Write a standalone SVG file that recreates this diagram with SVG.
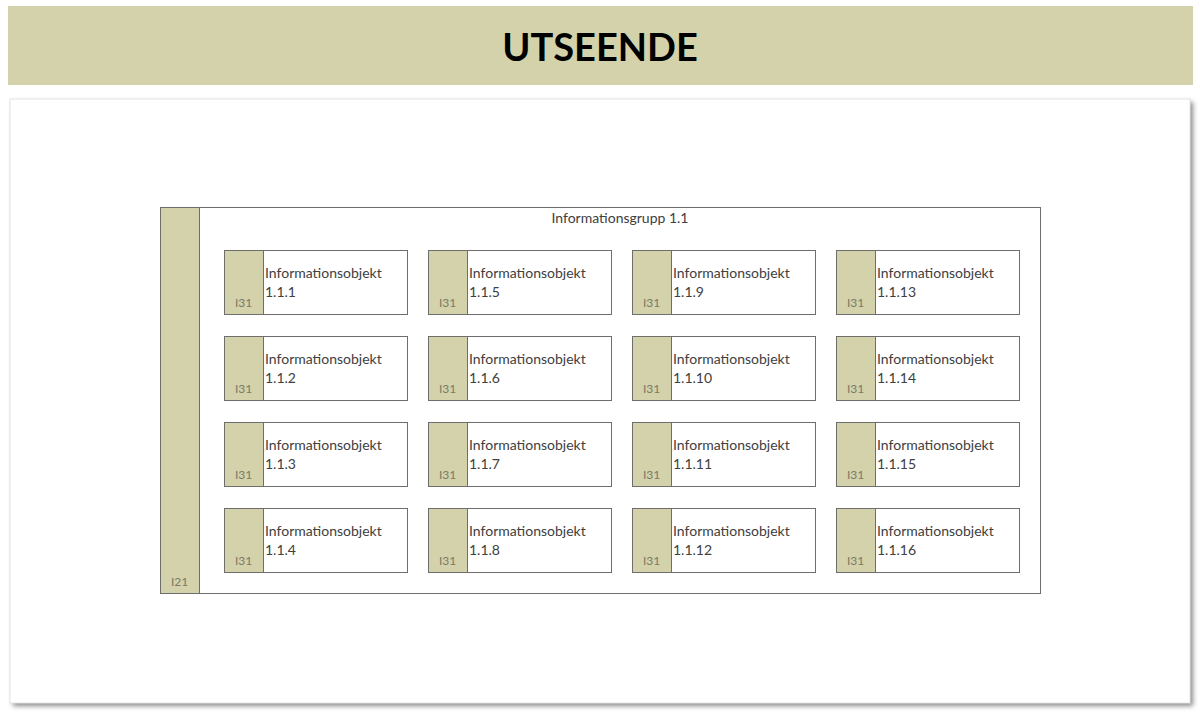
<svg xmlns="http://www.w3.org/2000/svg" width="1200" height="715" viewBox="0 0 1200 715">
<defs>
<style>
.bar{fill:#d4d2ab;}
.box{fill:#ffffff;stroke:#6e6e6e;stroke-width:1;}
.lbl{font-family:Lato,"Liberation Sans",sans-serif;font-size:14px;fill:#404040;}
.tag{font-family:Lato,"Liberation Sans",sans-serif;font-size:12px;fill:#7a7a66;}
.title{font-family:Lato,"Open Sans","Liberation Sans",sans-serif;font-size:38px;font-weight:bold;fill:#000;}
</style>
<filter id="sh" x="-5%" y="-5%" width="110%" height="110%">
<feGaussianBlur stdDeviation="2.5"/>
</filter>
<g id="obj">
<rect class="box" x="0.5" y="0.5" width="183" height="64"/>
<rect class="bar" x="1" y="1" width="38" height="63"/>
<line x1="39.5" y1="0.5" x2="39.5" y2="64.5" stroke="#6e6e6e"/>
<text class="tag" x="11" y="57">I31</text>
</g>
</defs>
<rect width="1200" height="715" fill="#ffffff"/>
<g id="title">
<rect class="bar" x="8" y="6" width="1185" height="79"/>
<text class="title" x="600" y="61" text-anchor="middle">UTSEENDE</text>
</g>
<g id="panel">
<rect x="13" y="102" width="1180" height="604" fill="#8a8a8a" filter="url(#sh)"/>
<rect x="10" y="99" width="1180" height="604" fill="#ffffff" stroke="#e4e4e4" stroke-width="1"/>
</g>
<g id="group">
<rect class="box" x="160.5" y="207.5" width="880" height="386"/>
<rect class="bar" x="161" y="208" width="38" height="385"/>
<line x1="199.5" y1="207.5" x2="199.5" y2="593.5" stroke="#6e6e6e"/>
<text class="tag" x="171" y="586">I21</text>
<text class="lbl" x="620" y="223" text-anchor="middle">Informationsgrupp 1.1</text>
</g>
<g id="o111"><use href="#obj" x="224" y="250"/><text class="lbl" x="265" y="278">Informationsobjekt</text><text class="lbl" x="265" y="297">1.1.1</text></g>
<g id="o112"><use href="#obj" x="224" y="336"/><text class="lbl" x="265" y="364">Informationsobjekt</text><text class="lbl" x="265" y="383">1.1.2</text></g>
<g id="o113"><use href="#obj" x="224" y="422"/><text class="lbl" x="265" y="450">Informationsobjekt</text><text class="lbl" x="265" y="469">1.1.3</text></g>
<g id="o114"><use href="#obj" x="224" y="508"/><text class="lbl" x="265" y="536">Informationsobjekt</text><text class="lbl" x="265" y="555">1.1.4</text></g>
<g id="o115"><use href="#obj" x="428" y="250"/><text class="lbl" x="469" y="278">Informationsobjekt</text><text class="lbl" x="469" y="297">1.1.5</text></g>
<g id="o116"><use href="#obj" x="428" y="336"/><text class="lbl" x="469" y="364">Informationsobjekt</text><text class="lbl" x="469" y="383">1.1.6</text></g>
<g id="o117"><use href="#obj" x="428" y="422"/><text class="lbl" x="469" y="450">Informationsobjekt</text><text class="lbl" x="469" y="469">1.1.7</text></g>
<g id="o118"><use href="#obj" x="428" y="508"/><text class="lbl" x="469" y="536">Informationsobjekt</text><text class="lbl" x="469" y="555">1.1.8</text></g>
<g id="o119"><use href="#obj" x="632" y="250"/><text class="lbl" x="673" y="278">Informationsobjekt</text><text class="lbl" x="673" y="297">1.1.9</text></g>
<g id="o1110"><use href="#obj" x="632" y="336"/><text class="lbl" x="673" y="364">Informationsobjekt</text><text class="lbl" x="673" y="383">1.1.10</text></g>
<g id="o1111"><use href="#obj" x="632" y="422"/><text class="lbl" x="673" y="450">Informationsobjekt</text><text class="lbl" x="673" y="469">1.1.11</text></g>
<g id="o1112"><use href="#obj" x="632" y="508"/><text class="lbl" x="673" y="536">Informationsobjekt</text><text class="lbl" x="673" y="555">1.1.12</text></g>
<g id="o1113"><use href="#obj" x="836" y="250"/><text class="lbl" x="877" y="278">Informationsobjekt</text><text class="lbl" x="877" y="297">1.1.13</text></g>
<g id="o1114"><use href="#obj" x="836" y="336"/><text class="lbl" x="877" y="364">Informationsobjekt</text><text class="lbl" x="877" y="383">1.1.14</text></g>
<g id="o1115"><use href="#obj" x="836" y="422"/><text class="lbl" x="877" y="450">Informationsobjekt</text><text class="lbl" x="877" y="469">1.1.15</text></g>
<g id="o1116"><use href="#obj" x="836" y="508"/><text class="lbl" x="877" y="536">Informationsobjekt</text><text class="lbl" x="877" y="555">1.1.16</text></g>
<g id="connectors"></g>
</svg>
